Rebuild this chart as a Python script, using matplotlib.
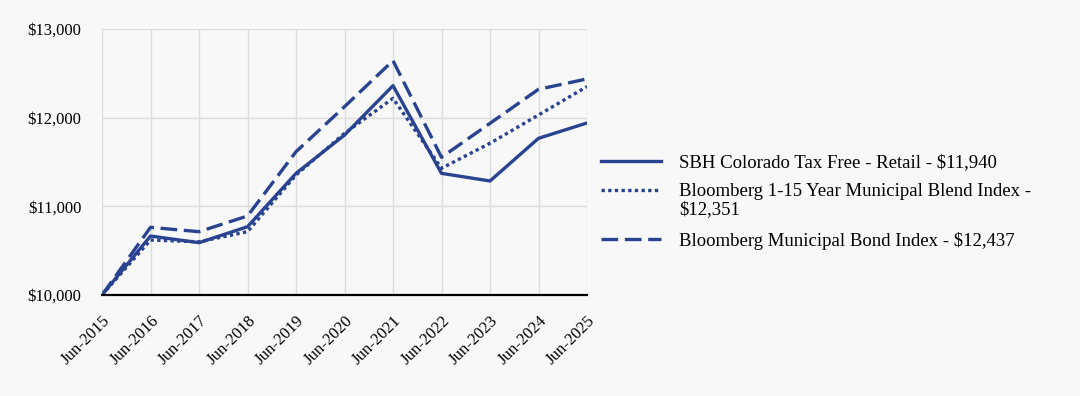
import matplotlib
matplotlib.use("Agg")
import matplotlib.pyplot as plt
from matplotlib.ticker import FuncFormatter
from matplotlib.lines import Line2D
from matplotlib.transforms import ScaledTranslation

years = ["Jun-2015", "Jun-2016", "Jun-2017", "Jun-2018", "Jun-2019", "Jun-2020",
         "Jun-2021", "Jun-2022", "Jun-2023", "Jun-2024", "Jun-2025"]
fund = [10000, 10665, 10590, 10770, 11372, 11804, 12361, 11372, 11286, 11767, 11940]
blend = [10000, 10620, 10600, 10714, 11353, 11823, 12218, 11429, 11711, 12030, 12351]
muni = [10000, 10763, 10714, 10891, 11616, 12124, 12643, 11553, 11936, 12320, 12437]
labels = ["SBH Colorado Tax Free - Retail - $11,940",
          "Bloomberg 1-15 Year Municipal Blend Index -\n$12,351",
          "Bloomberg Municipal Bond Index - $12,437"]
yticks = [10000, 11000, 12000, 13000]

plt.rcParams['font.family'] = ['Liberation Serif', 'DejaVu Serif']
bg = '#f8f8f8'
color = '#2a4390'

fig = plt.figure(figsize=(10.8, 3.96), dpi=100, facecolor=bg)
ax = fig.add_axes([102/1080, 1 - 295/396, 485/1080, 266/396], facecolor=bg)

styles = ['-', (0, (1, 1)), (0, (5, 2))]
x = list(range(len(years)))
for series, ls in zip([fund, blend, muni], styles):
    ax.plot(x, series, color=color, lw=2.4, linestyle=ls)

ax.set_xlim(0, len(years) - 1)
ax.set_ylim(10000, 13000)
ax.set_yticks(yticks)
ax.yaxis.set_major_formatter(FuncFormatter(lambda v, p: f"${v:,.0f}"))
ax.set_xticks(x)
ax.set_xticklabels(years, rotation=45, ha='right', rotation_mode='anchor')
shift = ScaledTranslation(-5/100, 0, fig.dpi_scale_trans)
for lbl in ax.get_xticklabels():
    lbl.set_transform(lbl.get_transform() + shift)
ax.grid(True, color='#dcdcdc', lw=1)
ax.set_axisbelow(True)
for s in ['top', 'right', 'left']:
    ax.spines[s].set_visible(False)
ax.spines['bottom'].set_color('black')
ax.spines['bottom'].set_linewidth(1.6)
ax.tick_params(axis='both', length=0, labelsize=12, colors='black')
ax.tick_params(axis='x', pad=13)
ax.tick_params(axis='y', pad=15)

# manual legend (handle aligned with first text line, like the reference)
handle_x0, handle_x1, text_x = 601/1080, 661/1080, 679/1080
entry_y = [161, 190, 239]
for ls, lab, yy in zip(styles, labels, entry_y):
    yf = 1 - yy/396
    fig.add_artist(Line2D([handle_x0, handle_x1], [yf, yf], transform=fig.transFigure,
                          color=color, lw=2.4, linestyle=ls))
    first, *rest = lab.split("\n")
    fig.text(text_x, yf, first, fontsize=13.5, va='center_baseline', ha='left')
    for i, r in enumerate(rest):
        fig.text(text_x, 1 - (yy + 18*(i + 1))/396, r, fontsize=13.5,
                 va='center_baseline', ha='left')

fig.savefig("out.png", dpi=100, facecolor=bg)
